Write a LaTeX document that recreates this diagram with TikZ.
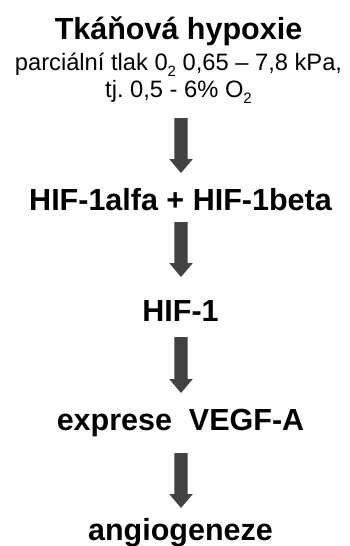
\documentclass[tikz,border=0pt]{standalone}
\usepackage{fontspec}
\setmainfont{Liberation Sans}
\usetikzlibrary{calc}
\definecolor{arrowgray}{RGB}{66,66,66}
\tikzset{
  big/.style={font=\fontsize{30.5}{36}\selectfont\bfseries, anchor=base, inner sep=0pt},
  small/.style={font=\fontsize{23.7}{28}\selectfont, anchor=base, inner sep=0pt},
  fatarrow/.style={fill=arrowgray, draw=none,
    to path={($(\tikztostart)+(-6.6,0)$) -- ($(\tikztotarget)+(-6.6,14)$)
      -- ($(\tikztotarget)+(-11.8,14)$) -- (\tikztotarget)
      -- ($(\tikztotarget)+(11.8,14)$) -- ($(\tikztotarget)+(6.6,14)$)
      -- ($(\tikztostart)+(6.6,0)$) -- cycle}}
}
\newcommand{\subtwo}{\raisebox{-0.27em}{\fontsize{15}{15}\selectfont 2}}
\frenchspacing
\begin{document}
\begin{tikzpicture}[x=1pt,y=1pt]
\useasboundingbox (0,0) rectangle (349,-546);
\node[big] (t1) at (178.5,-39) {Tkáňová hypoxie};
\node[small] (t2) at (178.5,-70) {parciální tlak 0\subtwo{} 0,65 – 7,8 kPa,};
\node[small] (t3) at (178.5,-97) {tj. 0,5 - 6\% O\subtwo};
\node[big] (n1) at (180.5,-210) {HIF-1alfa + HIF-1beta};
\node[big] (n2) at (180.5,-321) {HIF-1};
\node[big] (n3) at (180.5,-430) {exprese\ \ VEGF-A};
\node[big] (n4) at (180.5,-540) {angiogeneze};
\coordinate (a1s) at (181,-118);
\coordinate (a1e) at (181,-173);
\coordinate (a2s) at (181,-222);
\coordinate (a2e) at (181,-277);
\coordinate (a3s) at (181,-337);
\coordinate (a3e) at (181,-393);
\coordinate (a4s) at (181,-453);
\coordinate (a4e) at (181,-508);
\fill[fatarrow] (a1s) to (a1e);
\fill[fatarrow] (a2s) to (a2e);
\fill[fatarrow] (a3s) to (a3e);
\fill[fatarrow] (a4s) to (a4e);
\end{tikzpicture}
\end{document}
